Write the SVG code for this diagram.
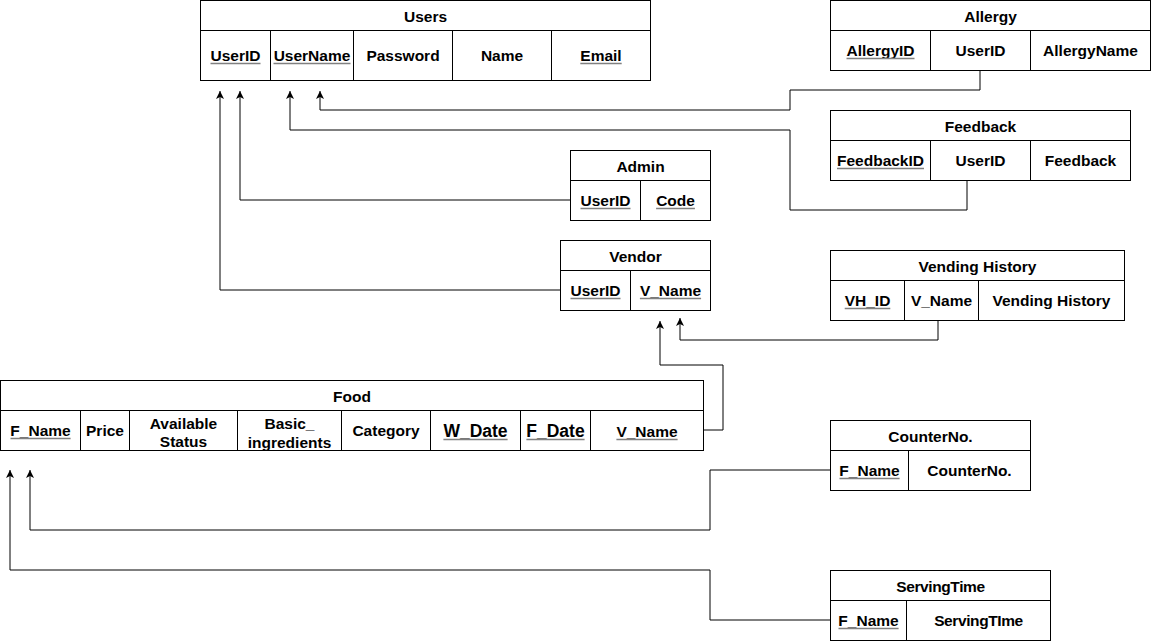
<svg xmlns="http://www.w3.org/2000/svg" width="1151" height="641" viewBox="0 0 1151 641">
  <style>
    .box { fill: #ffffff; stroke: #000000; stroke-width: 1; }
    .sep { stroke: #000000; stroke-width: 1; }
    .t { font-family: "Liberation Sans", Arial, sans-serif; font-weight: bold; font-size: 15.5px; fill: #000000; text-anchor: middle; }
    .big { font-size: 17.5px; }
    .ul { stroke: #808080; stroke-width: 1.5; }
    .conn { fill: none; stroke: #000000; stroke-width: 1; }
  </style>
  <defs>
    <marker id="arrow" markerUnits="userSpaceOnUse" markerWidth="10" markerHeight="10" refX="8" refY="4" orient="auto">
      <path d="M0,0 L8,4 L0,8 L2,4 z" fill="#000000"/>
    </marker>
  </defs>

  <rect width="1151" height="641" fill="#ffffff"/>

  <!-- relationships -->
  <g id="connectors">
    <polyline class="conn" points="980,70 980,90 790,90 790,110 320,110 320,91" marker-end="url(#arrow)"/>
    <polyline class="conn" points="967,180 967,210 790,210 790,130 290,130 290,91" marker-end="url(#arrow)"/>
    <polyline class="conn" points="570,200 240,200 240,91" marker-end="url(#arrow)"/>
    <polyline class="conn" points="560,290 220,290 220,91" marker-end="url(#arrow)"/>
    <polyline class="conn" points="938,320 938,340 680,340 680,318" marker-end="url(#arrow)"/>
    <polyline class="conn" points="703,430 723,430 723,365 660,365 660,321" marker-end="url(#arrow)"/>
    <polyline class="conn" points="830,470 710,470 710,530 30,530 30,470" marker-end="url(#arrow)"/>
    <polyline class="conn" points="830,620 710,620 710,570 10,570 10,470" marker-end="url(#arrow)"/>
  </g>

  <!-- Users -->
  <g id="users">
    <rect class="box" x="200.5" y="0.5" width="450" height="80"/>
    <line class="sep" x1="200.5" y1="30.5" x2="650.5" y2="30.5"/>
    <line class="sep" x1="270.5" y1="30.5" x2="270.5" y2="80.5"/>
    <line class="sep" x1="353.5" y1="30.5" x2="353.5" y2="80.5"/>
    <line class="sep" x1="452.5" y1="30.5" x2="452.5" y2="80.5"/>
    <line class="sep" x1="551.5" y1="30.5" x2="551.5" y2="80.5"/>
    <text class="t" x="425.5" y="21.5">Users</text>
    <text class="t" x="235.5" y="61">UserID</text>
    <line class="ul" x1="210.5" y1="63.5" x2="260.5" y2="63.5"/>
    <text class="t" x="312" y="61">UserName</text>
    <line class="ul" x1="273.5" y1="63.5" x2="350.5" y2="63.5"/>
    <text class="t" x="403" y="61">Password</text>
    <text class="t" x="502" y="61">Name</text>
    <text class="t" x="601" y="61">Email</text>
    <line class="ul" x1="580.3" y1="63.5" x2="621.7" y2="63.5"/>
  </g>

  <!-- Allergy -->
  <g id="allergy">
    <rect class="box" x="830.5" y="0.5" width="320" height="70"/>
    <line class="sep" x1="830.5" y1="30.5" x2="1150.5" y2="30.5"/>
    <line class="sep" x1="930.5" y1="30.5" x2="930.5" y2="70.5"/>
    <line class="sep" x1="1030.5" y1="30.5" x2="1030.5" y2="70.5"/>
    <text class="t" x="990.5" y="21.5">Allergy</text>
    <text class="t" x="880.5" y="56">AllergyID</text>
    <line class="ul" x1="846.5" y1="58.5" x2="914.5" y2="58.5"/>
    <text class="t" x="980.5" y="56">UserID</text>
    <text class="t" x="1090.5" y="56">AllergyName</text>
  </g>

  <!-- Feedback -->
  <g id="feedback">
    <rect class="box" x="830.5" y="110.5" width="300" height="70"/>
    <line class="sep" x1="830.5" y1="140.5" x2="1130.5" y2="140.5"/>
    <line class="sep" x1="930.5" y1="140.5" x2="930.5" y2="180.5"/>
    <line class="sep" x1="1030.5" y1="140.5" x2="1030.5" y2="180.5"/>
    <text class="t" x="980.5" y="131.5">Feedback</text>
    <text class="t" x="880.5" y="166">FeedbackID</text>
    <line class="ul" x1="837" y1="168.5" x2="924" y2="168.5"/>
    <text class="t" x="980.5" y="166">UserID</text>
    <text class="t" x="1080.5" y="166">Feedback</text>
  </g>

  <!-- Admin -->
  <g id="admin">
    <rect class="box" x="570.5" y="150.5" width="140" height="70"/>
    <line class="sep" x1="570.5" y1="180.5" x2="710.5" y2="180.5"/>
    <line class="sep" x1="640.5" y1="180.5" x2="640.5" y2="220.5"/>
    <text class="t" x="640.5" y="171.5">Admin</text>
    <text class="t" x="605.5" y="206">UserID</text>
    <line class="ul" x1="580.5" y1="208.5" x2="630.5" y2="208.5"/>
    <text class="t" x="675.5" y="206">Code</text>
    <line class="ul" x1="656.1" y1="208.5" x2="694.9" y2="208.5"/>
  </g>

  <!-- Vendor -->
  <g id="vendor">
    <rect class="box" x="560.5" y="240.5" width="150" height="70"/>
    <line class="sep" x1="560.5" y1="270.5" x2="710.5" y2="270.5"/>
    <line class="sep" x1="630.5" y1="270.5" x2="630.5" y2="310.5"/>
    <text class="t" x="635.5" y="261.5">Vendor</text>
    <text class="t" x="595.5" y="296">UserID</text>
    <line class="ul" x1="570.5" y1="298.5" x2="620.5" y2="298.5"/>
    <text class="t" x="670.5" y="296">V_Name</text>
    <line class="ul" x1="639.9" y1="298.5" x2="701.1" y2="298.5"/>
  </g>

  <!-- Vending History -->
  <g id="vending-history">
    <rect class="box" x="830.5" y="250.5" width="294" height="70"/>
    <line class="sep" x1="830.5" y1="280.5" x2="1124.5" y2="280.5"/>
    <line class="sep" x1="904.5" y1="280.5" x2="904.5" y2="320.5"/>
    <line class="sep" x1="978.5" y1="280.5" x2="978.5" y2="320.5"/>
    <text class="t" x="977.5" y="272">Vending History</text>
    <text class="t" x="867.5" y="306">VH_ID</text>
    <line class="ul" x1="844.7" y1="308.5" x2="890.3" y2="308.5"/>
    <text class="t" x="941.5" y="306">V_Name</text>
    <text class="t" x="1051.5" y="306">Vending History</text>
  </g>

  <!-- Food -->
  <g id="food">
    <rect class="box" x="0.5" y="380.5" width="703" height="70"/>
    <line class="sep" x1="0.5" y1="410.5" x2="703.5" y2="410.5"/>
    <line class="sep" x1="80.5" y1="410.5" x2="80.5" y2="450.5"/>
    <line class="sep" x1="129.5" y1="410.5" x2="129.5" y2="450.5"/>
    <line class="sep" x1="237.5" y1="410.5" x2="237.5" y2="450.5"/>
    <line class="sep" x1="341.5" y1="410.5" x2="341.5" y2="450.5"/>
    <line class="sep" x1="430.5" y1="410.5" x2="430.5" y2="450.5"/>
    <line class="sep" x1="520.5" y1="410.5" x2="520.5" y2="450.5"/>
    <line class="sep" x1="590.5" y1="410.5" x2="590.5" y2="450.5"/>
    <text class="t" x="352" y="402">Food</text>
    <text class="t" x="40.5" y="436">F_Name</text>
    <line class="ul" x1="10.5" y1="438.5" x2="70.6" y2="438.5"/>
    <text class="t" x="105" y="436">Price</text>
    <text class="t" x="183.5" y="429">Available</text>
    <text class="t" x="183.5" y="447">Status</text>
    <text class="t" x="289.5" y="429">Basic_</text>
    <text class="t" x="289.5" y="448">ingredients</text>
    <text class="t" x="386" y="436">Category</text>
    <text class="t big" x="475.5" y="437">W_Date</text>
    <line class="ul" x1="443.4" y1="439.5" x2="507.6" y2="439.5"/>
    <text class="t big" x="555.5" y="437">F_Date</text>
    <line class="ul" x1="526.4" y1="439.5" x2="584.6" y2="439.5"/>
    <text class="t" x="647" y="437">V_Name</text>
    <line class="ul" x1="616.4" y1="439.5" x2="677.6" y2="439.5"/>
  </g>

  <!-- CounterNo. -->
  <g id="counterno">
    <rect class="box" x="830.5" y="420.5" width="200" height="70"/>
    <line class="sep" x1="830.5" y1="450.5" x2="1030.5" y2="450.5"/>
    <line class="sep" x1="908.5" y1="450.5" x2="908.5" y2="490.5"/>
    <text class="t" x="930.5" y="441.5">CounterNo.</text>
    <text class="t" x="869.5" y="476">F_Name</text>
    <line class="ul" x1="839.5" y1="478.5" x2="899.6" y2="478.5"/>
    <text class="t" x="969.5" y="476">CounterNo.</text>
  </g>

  <!-- ServingTime -->
  <g id="servingtime">
    <rect class="box" x="830.5" y="570.5" width="220" height="70"/>
    <line class="sep" x1="830.5" y1="600.5" x2="1050.5" y2="600.5"/>
    <line class="sep" x1="906.5" y1="600.5" x2="906.5" y2="640.5"/>
    <text class="t" x="940.5" y="592" letter-spacing="-0.4">ServingTime</text>
    <text class="t" x="868.5" y="626">F_Name</text>
    <line class="ul" x1="838.5" y1="628.5" x2="898.6" y2="628.5"/>
    <text class="t" x="978.5" y="626" letter-spacing="-0.4">ServingTIme</text>
  </g>
</svg>
